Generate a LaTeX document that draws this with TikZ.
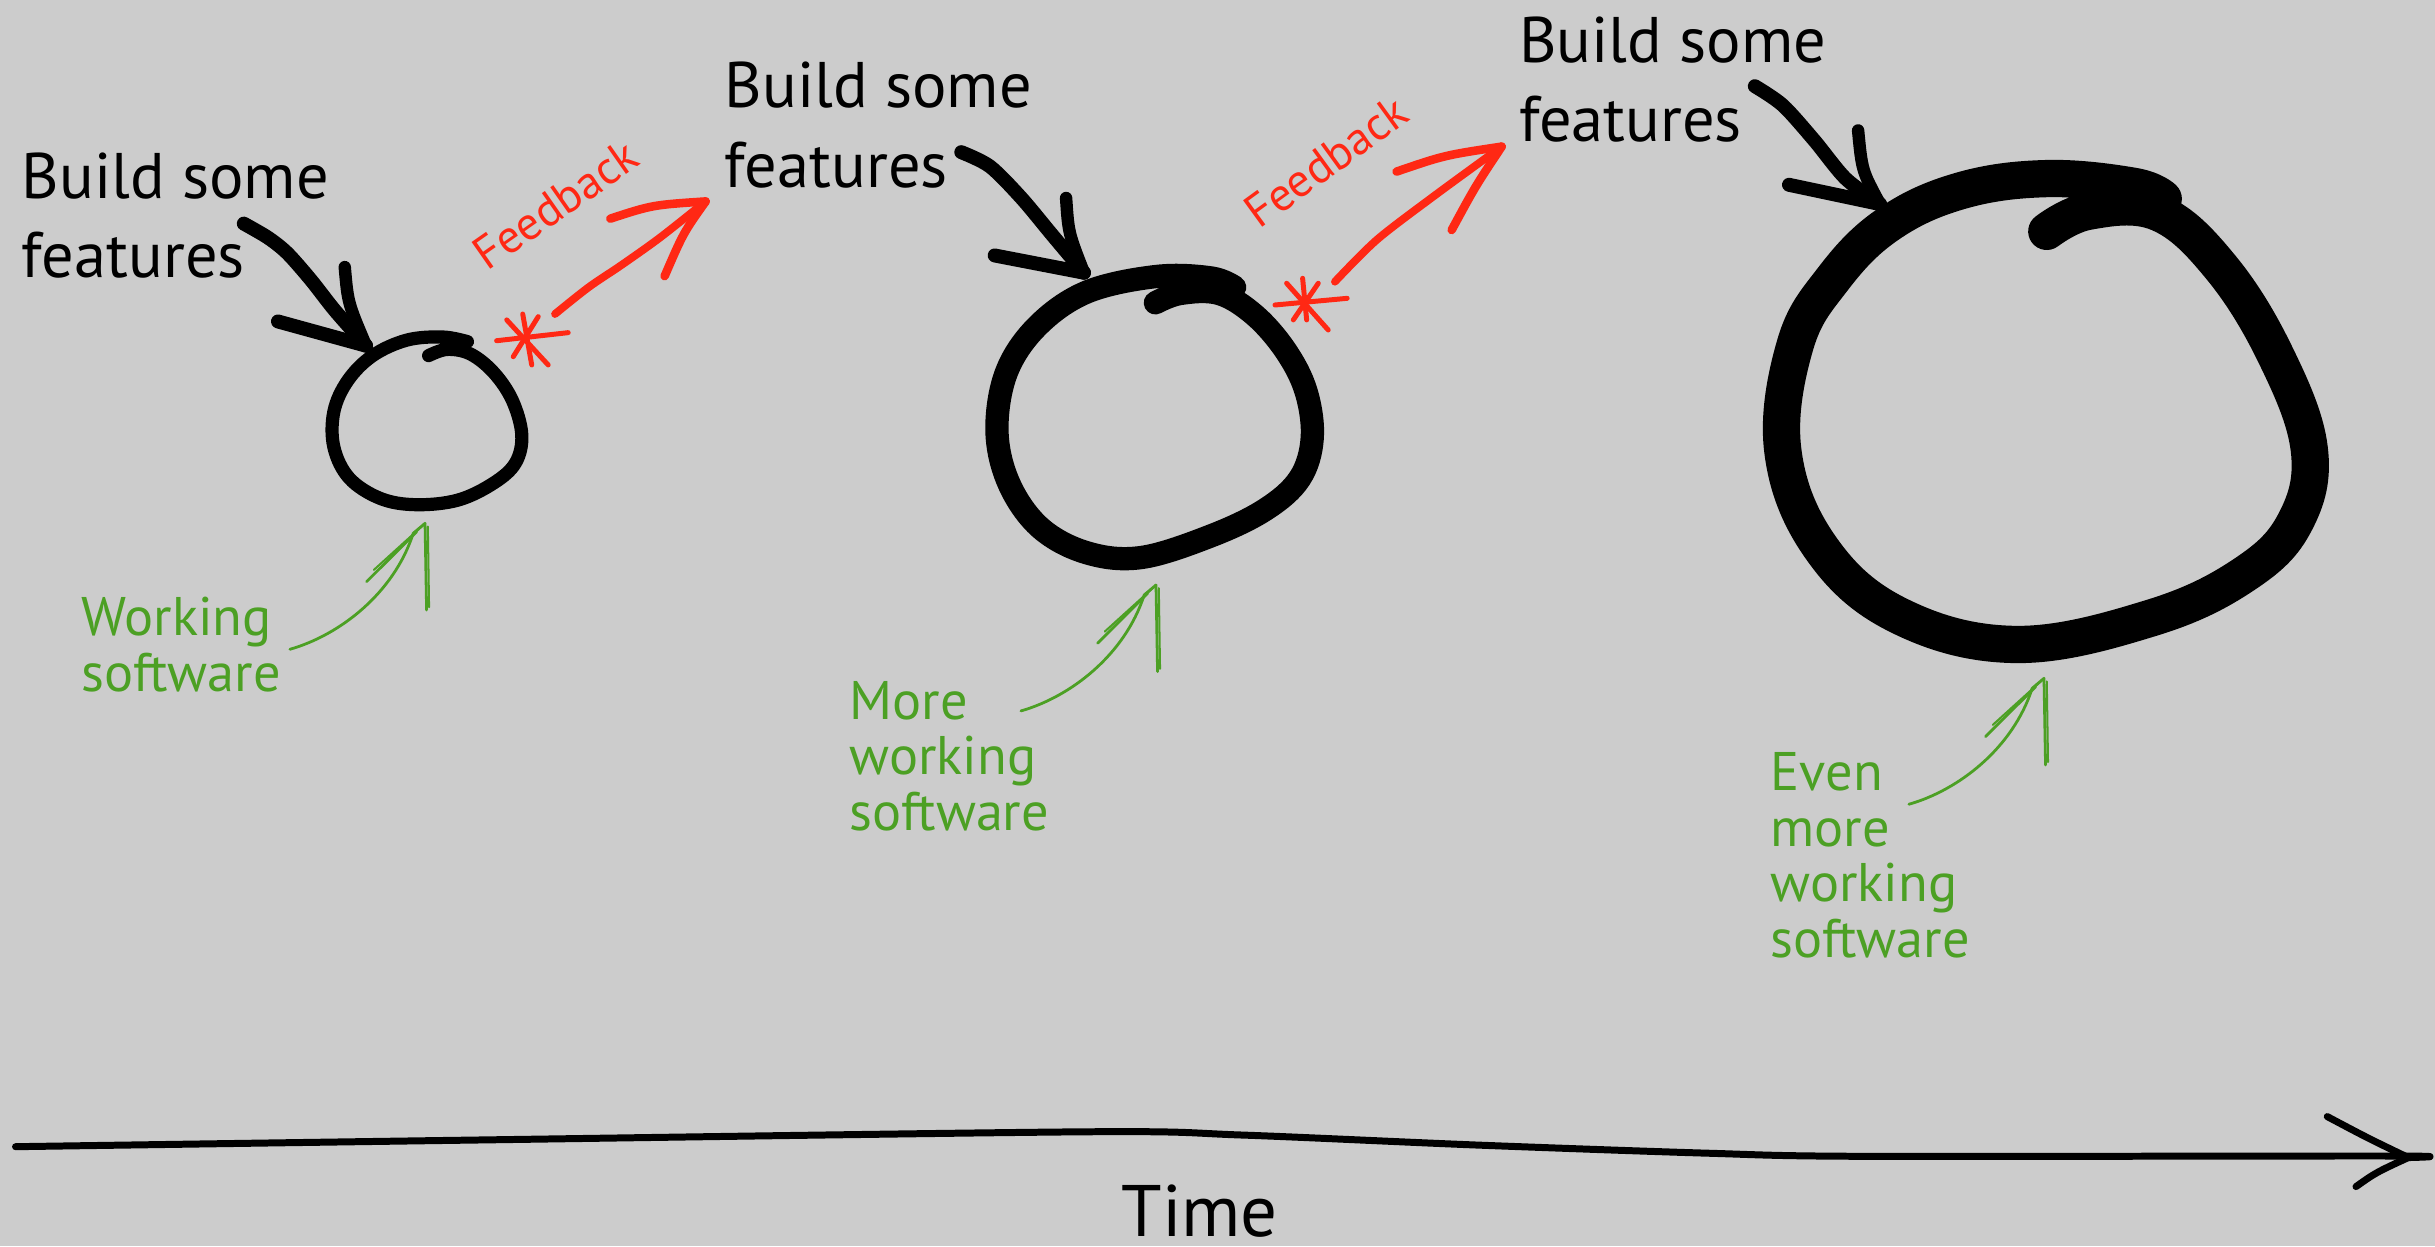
\documentclass[tikz,border=0pt]{standalone}
\usepackage{fontspec}
\setmainfont{PT Sans}
\definecolor{bg}{RGB}{204,204,204}
\definecolor{fbred}{RGB}{255,40,20}
\definecolor{wgreen}{RGB}{76,160,36}
\newcommand{\lns}[1]{\vtop{#1}}
\tikzset{
  ring/.style={draw=black, line width=#1, line cap=round, line join=round},
  brush/.style={draw=black, line width=#1, line cap=round, line join=round},
  redline/.style={draw=fbred, line width=#1, line cap=round, line join=round},
  greenline/.style={draw=wgreen, line width=1.8pt, line cap=round, line join=round},
  bigtext/.style={font=\fontsize{41.5}{51}\selectfont, anchor=base west, inner sep=0pt},
  greentext/.style={text=wgreen, font=\fontsize{35}{35.8}\selectfont, anchor=base west, inner sep=0pt},
  fbtext/.style={text=fbred, font=\fontsize{30}{32}\selectfont, anchor=base west, inner sep=0pt},
  timetext/.style={font=\fontsize{47}{50}\selectfont, anchor=base west, inner sep=0pt},
  wsarrow/.pic={
    \draw[greenline] (-87,81.1) .. controls (-55,72) and (-20,45) .. (-7.6,6.4) -- (0,0);
    \draw[greenline] (0,0) -- (1,55.8);
    \draw[greenline, line width=1.3pt] (1.8,2) -- (2.6,54);
    \draw[greenline] (-37.6,37.5) -- (-5.4,5.4);
    \draw[greenline, line width=1.3pt] (-33,30) -- (-1,1);
  }
}
\begin{document}
\begin{tikzpicture}[x=1pt,y=-1pt]
\useasboundingbox[fill=bg] (0,0) rectangle (1568,802.4);

% ---------- group 1 ----------
\node[bigtext] (bsf1) at (13.9,128) {\lns{\hbox{Build some}\hbox{features}}};
\coordinate (b1s) at (157,144);
\coordinate (b1t) at (235.7,222.6);
\draw[brush=9pt] plot[smooth] coordinates {(b1s) (172.5,153) (185,163) (200.3,180.4) (215.7,200) (b1t)};
\draw[brush=9pt] (179,207) -- (b1t);
\draw[brush=8pt] (222,172) .. controls (224,195) .. (b1t);
\draw[ring=8.5pt] plot[smooth, tension=0.6] coordinates {(276,229) (288,225) (303,228) (318,240) (330,258) (336,280) (332,298) (318,311) (295,322) (268,325) (245,321) (225,308) (215,288) (215,265) (224,245) (240,229) (262,219) (285,217) (301,220)};
% asterisk 1
\draw[redline=3.2pt] (319.8,219.4) -- (365.9,214.2);
\draw[redline=3.2pt] (336.6,202.2) -- (342.4,235);
\draw[redline=3.2pt] (346.6,203.9) -- (330.5,229.7);
\draw[redline=3.2pt] (326.3,206) -- (353,235);
% feedback arrow 1
\coordinate (r1s) at (357.4,202.2);
\coordinate (r1t) at (454.4,129.7);
\draw[redline=5pt] plot[smooth] coordinates {(r1s) (379,185) (400.6,170.4) (425,153) (r1t)};
\draw[redline=5.5pt] (393,140.8) .. controls (420,132) .. (r1t);
\draw[redline=5.5pt] (428,177.8) .. controls (440,150) .. (r1t);
\node[fbtext, rotate=35] (fb1) at (314,175) {Feedback};
\pic at (273.7,337) {wsarrow};
\node[greentext] (ws1) at (52.4,409.4) {\lns{\hbox{Working}\hbox{software}}};

% ---------- group 2 ----------
\node[bigtext] (bsf2) at (466.6,69.5) {\lns{\hbox{Build some}\hbox{features}}};
\coordinate (b2s) at (619,98);
\coordinate (b2t) at (698,175.6);
\draw[brush=9pt] plot[smooth] coordinates {(b2s) (637.5,107.2) (657.7,127.5) (677.8,151.6) (b2t)};
\draw[brush=9pt] (640.5,164.5) -- (b2t);
\draw[brush=8pt] (686.5,127.5) .. controls (688,150) .. (b2t);
\draw[ring=15pt] plot[smooth, tension=0.6] coordinates {(744,195) (760,189) (785,189) (808,203) (828,226) (841,252) (845,282) (837,308) (815,328) (780,345) (735,359) (700,356) (670,340) (650,312) (642,278) (648,240) (668,210) (700,188) (745,178) (780,179) (795,185)};
% asterisk 2
\draw[redline=3.2pt] (821,196.4) -- (867.5,192.1);
\draw[redline=3.2pt] (838.8,179.2) -- (841.4,206);
\draw[redline=3.2pt] (848.9,182.4) -- (832.8,206);
\draw[redline=3.2pt] (828.5,182.4) -- (855.3,212.5);
% feedback arrow 2
\coordinate (r2s) at (859.6,181.4);
\coordinate (r2t) at (967,94.4);
\draw[redline=5pt] plot[smooth] coordinates {(r2s) (886.5,154.5) (922.9,126.6) (r2t)};
\draw[redline=5.5pt] (899.3,110.5) .. controls (930,100) .. (r2t);
\draw[redline=5.5pt] (934.8,148.1) .. controls (950,120) .. (r2t);
\node[fbtext, rotate=36] (fb2) at (811,148) {Feedback};
\pic at (744.4,376.7) {wsarrow};
\node[greentext] (ws2) at (547,463.2) {\lns{\hbox{More}\hbox{working}\hbox{software}}};

% ---------- group 3 ----------
\node[bigtext] (bsf3) at (978,40.2) {\lns{\hbox{Build some}\hbox{features}}};
\coordinate (b3s) at (1130,55.5);
\coordinate (b3t) at (1210.6,131.4);
\draw[brush=9pt] plot[smooth] coordinates {(b3s) (1148,67.8) (1168.2,90.3) (1188.5,115) (b3t)};
\draw[brush=9pt] (1152,119) -- (b3t);
\draw[brush=8pt] (1196.5,84) .. controls (1199,110) .. (b3t);
\draw[ring=24pt] plot[smooth, tension=0.65] coordinates {(1318,149) (1345,136) (1390,137) (1430,172) (1465,228) (1487,289) (1478,336) (1445,370) (1385,398) (1298,415) (1222,396) (1172,352) (1148,290) (1156,222) (1180,180) (1215,145) (1262,123) (1318,115) (1374,120) (1393,128)};
\pic at (1316.2,436.8) {wsarrow};
\node[greentext] (ws3) at (1140,509.2) {\lns{\hbox{Even}\hbox{more}\hbox{working}\hbox{software}}};

% ---------- time axis ----------
\coordinate (ts) at (10,738.4);
\coordinate (tt) at (1550.8,745.4);
\draw[brush=4.5pt] plot[smooth] coordinates {(ts) (300,734.2) (700,728.8) (800,730.9) (950,737.3) (1100,742.6) (1200,744.6) (1540,744.4) (tt)};
\draw[brush=4.5pt] (1498.6,719) .. controls (1525,733) .. (tt);
\draw[brush=4.5pt] (1517.1,764.1) .. controls (1530,755) .. (tt);
\node[timetext] (time) at (722,796) {Time};
\end{tikzpicture}
\end{document}
